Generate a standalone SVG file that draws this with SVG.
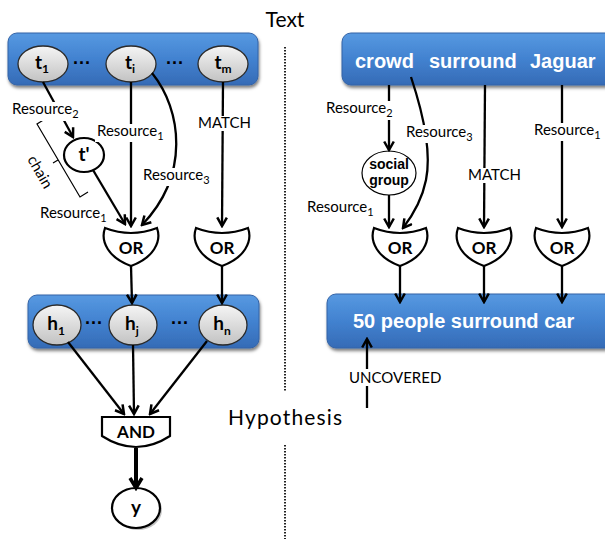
<svg xmlns="http://www.w3.org/2000/svg" width="605" height="539" viewBox="0 0 605 539">
<defs>
<linearGradient id="blue" x1="0" y1="0" x2="0" y2="1">
<stop offset="0" stop-color="#5799e1"/>
<stop offset="0.5" stop-color="#4282d0"/>
<stop offset="1" stop-color="#356bb6"/>
</linearGradient>
<linearGradient id="gray" x1="0" y1="0" x2="0" y2="1">
<stop offset="0" stop-color="#f5f5f5"/>
<stop offset="1" stop-color="#c2c2c2"/>
</linearGradient>
<filter id="sh" x="-10%" y="-20%" width="120%" height="160%">
<feDropShadow dx="1" dy="2.5" stdDeviation="1.8" flood-color="#000" flood-opacity="0.5"/>
</filter>
<marker id="ah" viewBox="0 0 12 12" refX="10" refY="6" markerWidth="12" markerHeight="12" markerUnits="userSpaceOnUse" orient="auto">
<path d="M1.5,1.2 L10,6 L1.5,10.8" fill="none" stroke="#000" stroke-width="2.5"/>
</marker>
<marker id="ahb" viewBox="0 0 16 16" refX="13" refY="8" markerWidth="16" markerHeight="16" markerUnits="userSpaceOnUse" orient="auto">
<path d="M3,2 L13,8 L3,14" fill="none" stroke="#000" stroke-width="3.5"/>
</marker>
<style>
.box{fill:url(#blue);stroke:#3463a6;stroke-width:1;filter:url(#sh)}
.gn{fill:url(#gray);stroke:#2a2a2a;stroke-width:1.3}
.wn{fill:#fff;stroke:#000;stroke-width:2.2}
.gate{fill:#fff;stroke:#000;stroke-width:2.2}
.c{fill:none;stroke:#000;stroke-width:2.3;marker-end:url(#ah)}
.lbl{font-family:Lato,"Open Sans",sans-serif;font-size:15px;fill:#000}
.nb{font-family:Lato,"Open Sans",sans-serif;font-weight:bold;font-size:19px;fill:#000}
.gt{font-family:Lato,"Open Sans",sans-serif;font-weight:bold;font-size:17px;fill:#000;text-anchor:middle}
.wt{font-family:"Liberation Sans",Arial,sans-serif;font-weight:bold;font-size:20px;fill:#fff}
.dots{font-family:"Liberation Sans",Arial,sans-serif;font-weight:bold;font-size:18px;fill:#000}
.title{font-family:Lato,"Open Sans",sans-serif;font-size:21px;fill:#000}
.bg{fill:#fff}
</style>
</defs>

<!-- titles and separator -->
<g id="titles">
<text class="title" x="285" y="27" text-anchor="middle">Text</text>
<text class="title" x="285" y="425" text-anchor="middle" textLength="114">Hypothesis</text>
<path d="M285,47 L285,392 M285,445 L285,539" fill="none" stroke="#222" stroke-width="2" stroke-dasharray="1.5 1.5"/>
</g>

<!-- left side: text box -->
<g id="text-box-left">
<rect class="box" x="8" y="33" width="250" height="52" rx="9"/>
<text class="dots" x="82" y="69" text-anchor="middle">···</text>
<text class="dots" x="175" y="69" text-anchor="middle">···</text>
</g>
<g id="t1"><ellipse class="gn" cx="43" cy="64" rx="25" ry="18"/><text class="nb" x="42" y="69" text-anchor="middle">t<tspan font-size="12" dy="4">1</tspan></text></g>
<g id="ti"><ellipse class="gn" cx="131" cy="64" rx="25" ry="18"/><text class="nb" x="130" y="69" text-anchor="middle">t<tspan font-size="12" dy="4">i</tspan></text></g>
<g id="tm"><ellipse class="gn" cx="223" cy="64" rx="25" ry="18"/><text class="nb" x="223" y="69" text-anchor="middle">t<tspan font-size="12" dy="4">m</tspan></text></g>

<!-- hypothesis box left -->
<g id="hyp-box-left">
<rect class="box" x="28" y="295" width="231" height="53" rx="9"/>
<text class="dots" x="94" y="329" text-anchor="middle">···</text>
<text class="dots" x="180" y="329" text-anchor="middle">···</text>
</g>
<g id="h1"><ellipse class="gn" cx="57" cy="325" rx="24" ry="20"/><text class="nb" x="56" y="330" text-anchor="middle">h<tspan font-size="12" dy="5">1</tspan></text></g>
<g id="hj"><ellipse class="gn" cx="133" cy="325" rx="24" ry="20"/><text class="nb" x="132" y="330" text-anchor="middle">h<tspan font-size="12" dy="5">j</tspan></text></g>
<g id="hn"><ellipse class="gn" cx="223" cy="325" rx="24" ry="20"/><text class="nb" x="222" y="330" text-anchor="middle">h<tspan font-size="12" dy="5">n</tspan></text></g>

<g id="tprime"><ellipse class="wn" cx="84" cy="155" rx="20" ry="17"/><text class="nb" x="84" y="161" text-anchor="middle">t'</text></g>

<g id="or-l1"><path class="gate" d="M105,228 Q131,238 157,228 C162,242 153,258 131,266 C109,258 100,242 105,228 Z"/><text class="gt" x="131" y="254">OR</text></g>
<g id="or-l2"><path class="gate" d="M196,228 Q222,238 248,228 C253,242 244,258 222,266 C200,258 191,242 196,228 Z"/><text class="gt" x="222" y="254">OR</text></g>

<g id="and"><path class="gate" d="M102,417 L170,417 L170,436 Q136,458 102,436 Z"/><text class="gt" x="136" y="438" font-size="15">AND</text></g>

<g id="y"><ellipse cx="138" cy="510" rx="24" ry="20" fill="#999" opacity="0.6"/><ellipse class="wn" cx="136" cy="508" rx="24" ry="20"/><text class="nb" x="136" y="514" text-anchor="middle">y</text></g>

<!-- chain bracket -->
<g id="chain">
<path d="M45,119 L37,124 L80,197 L88,192 M58,160 L53,163" fill="none" stroke="#000" stroke-width="1.2"/>
<text class="lbl" font-size="16" text-anchor="middle" transform="translate(40,172) rotate(60)" y="5">chain</text>
</g>

<!-- right side -->
<g id="text-box-right">
<rect class="box" x="342" y="33" width="275" height="52" rx="9"/>
<text class="wt" x="355" y="68">crowd</text>
<text class="wt" x="429" y="68">surround</text>
<text class="wt" x="530" y="68">Jaguar</text>
</g>
<g id="social-group"><ellipse cx="389" cy="173" rx="27" ry="22" fill="#fff" stroke="#000" stroke-width="1.2"/>
<text x="389" y="169" text-anchor="middle" font-family="Liberation Sans, Arial, sans-serif" font-weight="bold" font-size="14">social</text>
<text x="389" y="185" text-anchor="middle" font-family="Liberation Sans, Arial, sans-serif" font-weight="bold" font-size="14">group</text></g>
<g id="or-r1"><path class="gate" d="M374,228 Q400,238 426,228 C431,242 422,258 400,266 C378,258 369,242 374,228 Z"/><text class="gt" x="400" y="254">OR</text></g>
<g id="or-r2"><path class="gate" d="M458,228 Q484,238 510,228 C515,242 506,258 484,266 C462,258 453,242 458,228 Z"/><text class="gt" x="484" y="254">OR</text></g>
<g id="or-r3"><path class="gate" d="M536,228 Q562,238 588,228 C593,242 584,258 562,266 C540,258 531,242 536,228 Z"/><text class="gt" x="562" y="254">OR</text></g>
<g id="hyp-box-right">
<rect class="box" x="327" y="294" width="290" height="54" rx="9"/>
<text class="wt" x="353" y="328">50 people surround car</text>
</g>

<!-- connectors -->
<g id="connectors">
<path class="c" d="M43,82 L73,137"/>
<path class="c" d="M131,82 L131,226"/>
<path class="c" d="M152,73 C182,110 190,175 142,225"/>
<path class="c" d="M93,170 L125,224"/>
<path class="c" d="M223,82 L222,226"/>
<path class="c" d="M131,266 L132,303"/>
<path class="c" d="M222,266 L222,303"/>
<path class="c" d="M68,342 L124,414"/>
<path class="c" d="M133,345 L134,414"/>
<path class="c" d="M207,341 L150,414"/>
<path d="M136,448 L136,488" fill="none" stroke="#000" stroke-width="4" marker-end="url(#ahb)"/>

<path class="c" d="M389,85 L389,150"/>
<path class="c" d="M411,77 C422,110 432,150 426,180 C422,200 413,215 403,228"/>
<path class="c" d="M389,195 L389,227"/>
<path class="c" d="M485,85 L484,227"/>
<path class="c" d="M562,85 L562,227"/>
<path class="c" d="M400,266 L400,302"/>
<path class="c" d="M484,266 L484,302"/>
<path class="c" d="M562,266 L562,302"/>
<path class="c" d="M367,408 L367,339"/>
</g>

<!-- edge labels -->
<g id="labels">
<rect class="bg" x="10" y="102" width="77" height="19"/>
<text class="lbl" x="12" y="114">Resource<tspan font-size="11" dy="4">2</tspan></text>
<rect class="bg" x="95" y="124" width="76" height="18"/>
<text class="lbl" x="97" y="136">Resource<tspan font-size="11" dy="4">1</tspan></text>
<rect class="bg" x="141" y="168" width="78" height="18"/>
<text class="lbl" x="143" y="180">Resource<tspan font-size="11" dy="4">3</tspan></text>
<text class="lbl" x="40" y="218">Resource<tspan font-size="11" dy="4">1</tspan></text>
<rect class="bg" x="196" y="116" width="56" height="15"/>
<text class="lbl" x="198" y="128" font-size="14">MATCH</text>

<rect class="bg" x="324" y="101" width="78" height="19"/>
<text class="lbl" x="326" y="113">Resource<tspan font-size="11" dy="4">2</tspan></text>
<rect class="bg" x="404" y="125" width="78" height="18"/>
<text class="lbl" x="406" y="137">Resource<tspan font-size="11" dy="4">3</tspan></text>
<rect class="bg" x="532" y="123" width="73" height="18"/>
<text class="lbl" x="534" y="135">Resource<tspan font-size="11" dy="4">1</tspan></text>
<rect class="bg" x="466" y="168" width="56" height="15"/>
<text class="lbl" x="468" y="180" font-size="14">MATCH</text>
<text class="lbl" x="307" y="212">Resource<tspan font-size="11" dy="4">1</tspan></text>
<rect class="bg" x="347" y="369" width="97" height="17"/>
<text class="lbl" x="349" y="383" font-size="14">UNCOVERED</text>
</g>
</svg>
